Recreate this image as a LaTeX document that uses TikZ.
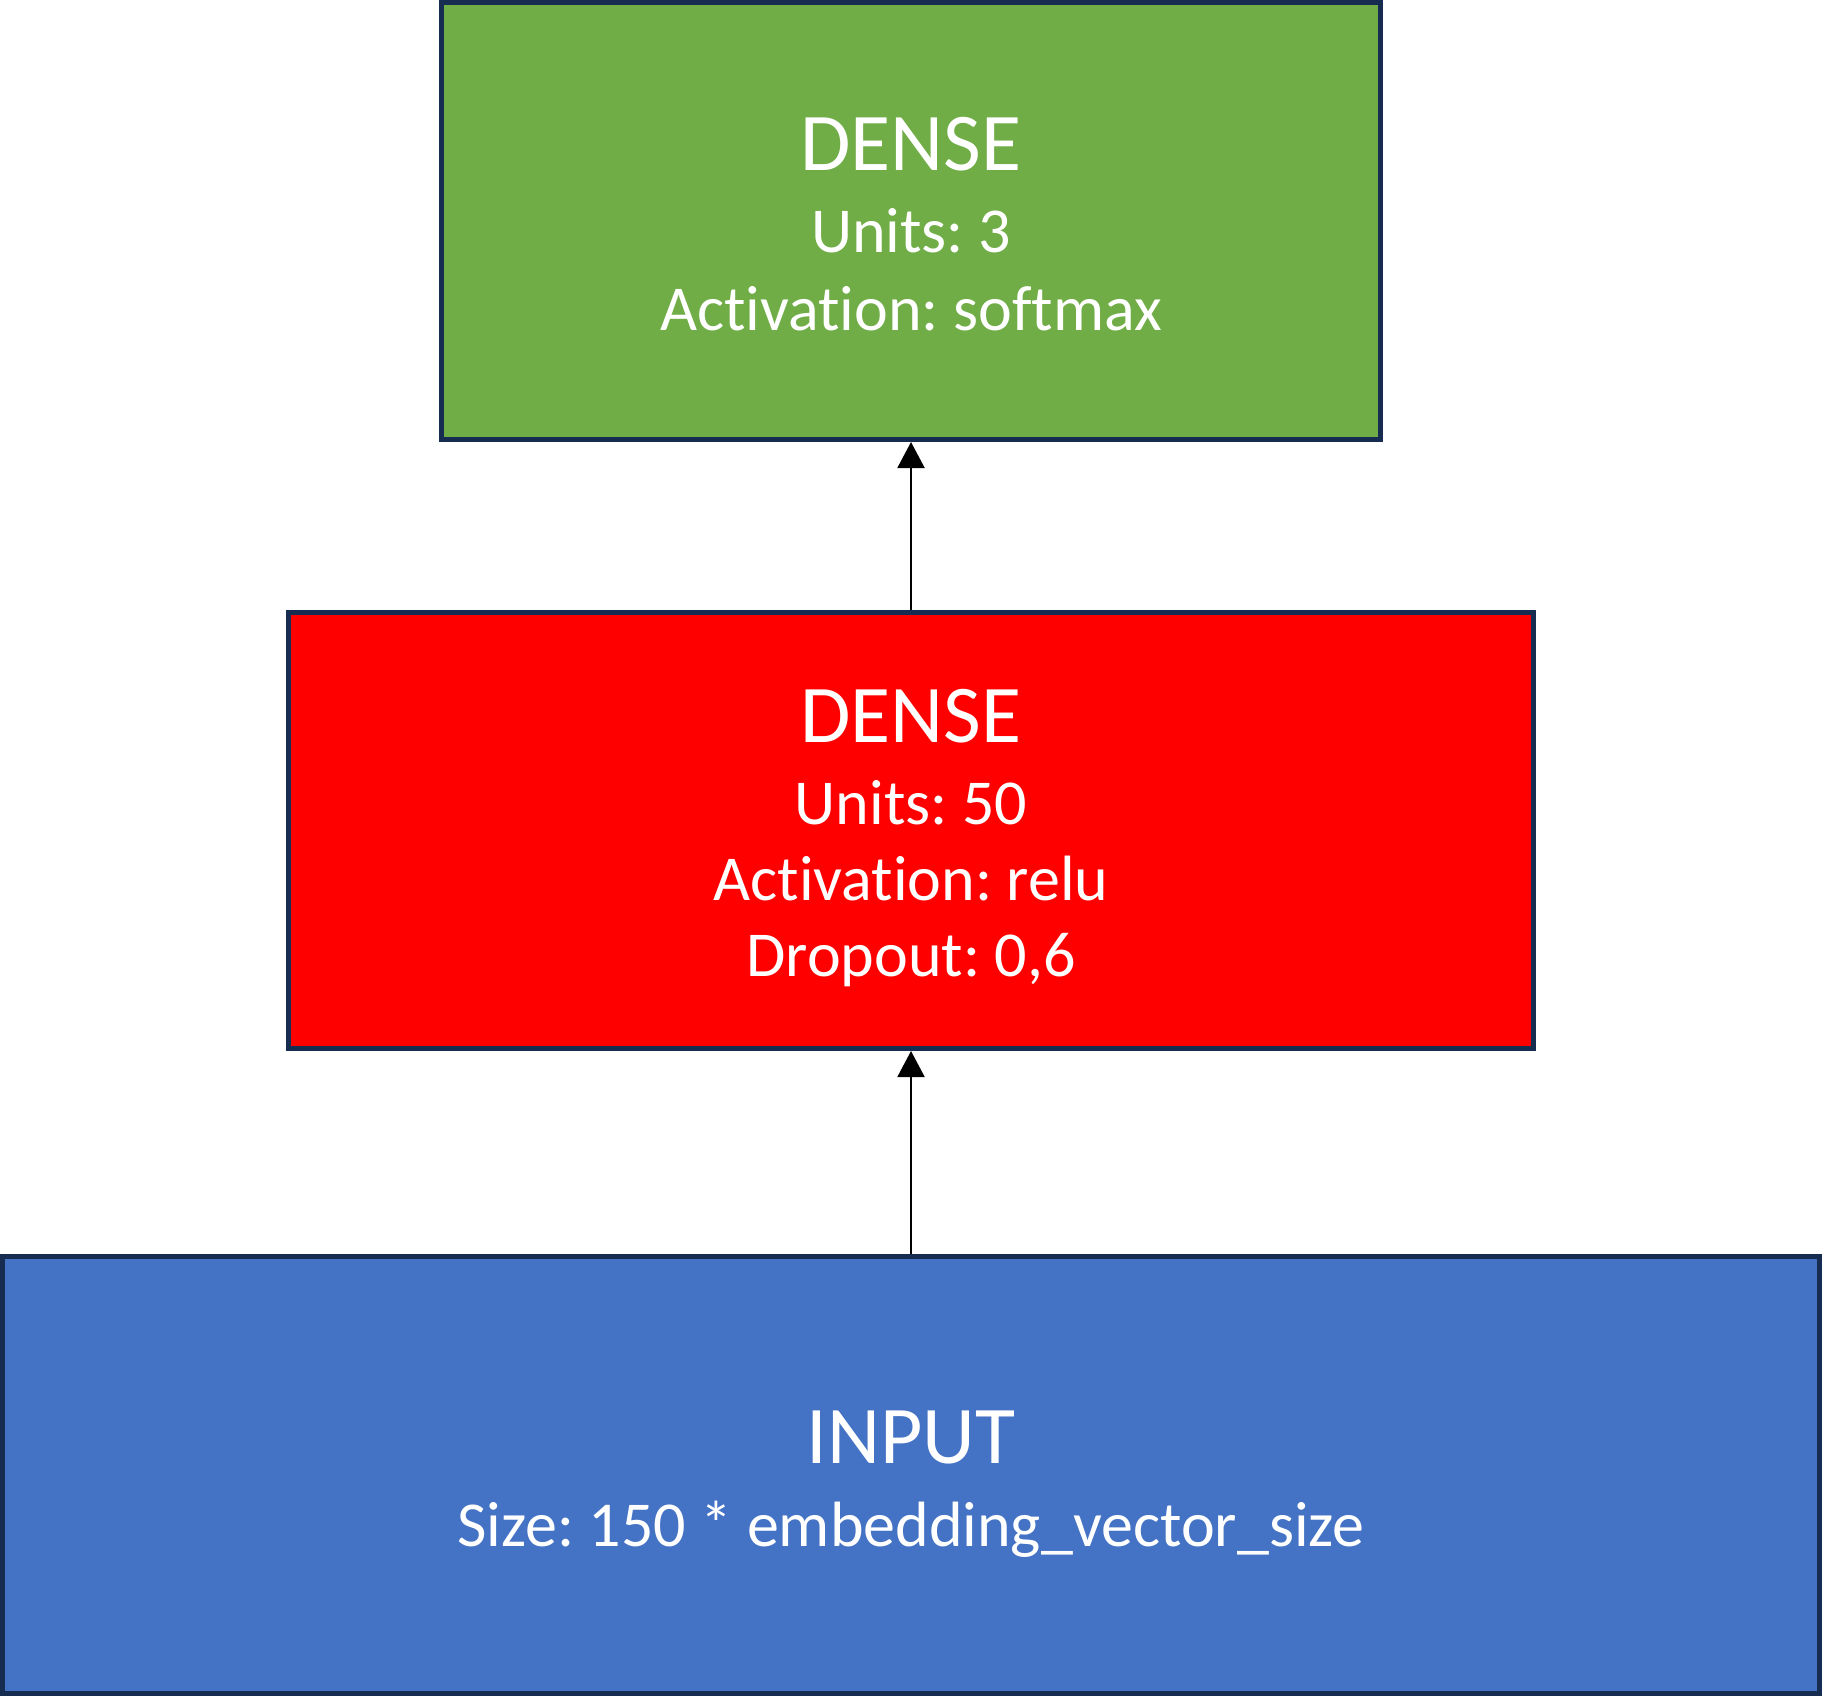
\documentclass[tikz,border=0pt]{standalone}
\usepackage{fontspec}
\setmainfont{Carlito}[Ligatures=NoCommon]
\frenchspacing
\usetikzlibrary{arrows.meta}
\definecolor{layergreen}{HTML}{70AD47}
\definecolor{layerred}{HTML}{FF0000}
\definecolor{layerblue}{HTML}{4472C4}
\definecolor{layerborder}{HTML}{172C51}
\tikzset{
  layer/.style={draw=layerborder, line width=5pt, rectangle, inner sep=0pt},
  title/.style={anchor=base, text=white, font=\fontsize{82}{98}\selectfont, inner sep=0pt},
  info/.style={anchor=base, text=white, font=\fontsize{64}{77}\selectfont, inner sep=0pt},
  flow/.style={line width=2pt, -{Triangle[width=27pt, length=26pt]}}
}
\begin{document}
\begin{tikzpicture}[x=1pt, y=-1pt]
\useasboundingbox (0,0) rectangle (1822,1696);
% layer boxes
\node[layer, fill=layergreen, minimum width=939pt, minimum height=437pt] (out) at (911,221) {};
\node[layer, fill=layerred, minimum width=1245pt, minimum height=436pt] (hid) at (911,830.5) {};
\node[layer, fill=layerblue, minimum width=1817pt, minimum height=437pt] (inp) at (911,1475) {};
% output layer text
\node[title] (outT) at (911,171) {DENSE};
\node[info] (outU) at (911,253) {Units: 3};
\node[info] (outA) at (911,330) {Activation: softmax};
% hidden layer text
\node[title] (hidT) at (911,742) {DENSE};
\node[info] (hidU) at (911,824) {Units: 50};
\node[info] (hidA) at (911,900) {Activation: relu};
\node[info] (hidD) at (911,976) {Dropout: 0,6};
% input layer text
\node[title] (inpT) at (911,1463) {INPUT};
\node[info] (inpS) at (911,1546) {Size: 150 * embedding\_vector\_size};
% connectors
\draw[flow] (inp.north) -- (hid.south);
\draw[flow] (hid.north) -- (out.south);
\end{tikzpicture}
\end{document}
